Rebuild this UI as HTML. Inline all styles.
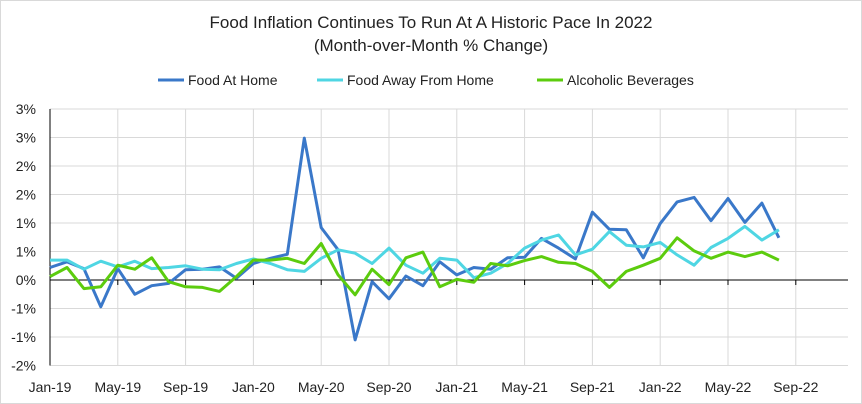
<!DOCTYPE html>
<html><head><meta charset="utf-8"><style>
html,body{margin:0;padding:0;background:#fff}
svg{display:block;font-family:"Liberation Sans",sans-serif}
</style></head><body>
<svg width="862" height="404" viewBox="0 0 862 404">
<rect x="0.5" y="0.5" width="861" height="403" fill="#fff" stroke="#d9d9d9"/>
<text x="431" y="28" text-anchor="middle" font-size="17" fill="#222">Food Inflation Continues To Run At A Historic Pace In 2022</text>
<text x="431" y="51" text-anchor="middle" font-size="17" fill="#222">(Month-over-Month % Change)</text>
<g id="legend"></g>
<g id="grid"></g>
<g id="yaxis"></g>
<g id="xaxis"></g>
<g id="series"></g>
</svg>
<script>
const months = 44;
const xTickLabels = ["Jan-19","May-19","Sep-19","Jan-20","May-20","Sep-20","Jan-21","May-21","Sep-21","Jan-22","May-22","Sep-22"];
const yTicks = [3.0,2.5,2.0,1.5,1.0,0.5,0,-0.5,-1.0,-1.5];
const seriesNames = ["Food At Home","Food Away From Home","Alcoholic Beverages"];
const foodAtHome = [0.22,0.32,0.2,-0.47,0.2,-0.25,-0.1,-0.06,0.18,0.19,0.23,0.03,0.29,0.38,0.45,2.49,0.92,0.53,-1.05,-0.03,-0.33,0.07,-0.1,0.32,0.09,0.22,0.19,0.39,0.4,0.73,0.56,0.37,1.19,0.89,0.88,0.39,0.99,1.37,1.45,1.04,1.43,1.01,1.35,0.74];
const foodAway = [0.35,0.35,0.19,0.33,0.23,0.33,0.2,0.22,0.25,0.19,0.18,0.29,0.37,0.29,0.18,0.15,0.38,0.53,0.47,0.29,0.56,0.26,0.12,0.38,0.35,0.04,0.12,0.29,0.56,0.7,0.79,0.44,0.54,0.85,0.61,0.58,0.66,0.44,0.26,0.57,0.73,0.94,0.7,0.88];
const alcohol = [0.06,0.22,-0.15,-0.12,0.26,0.19,0.39,-0.03,-0.12,-0.13,-0.2,0.06,0.35,0.35,0.38,0.29,0.64,0.09,-0.26,0.19,-0.08,0.39,0.49,-0.12,0.01,-0.04,0.29,0.25,0.34,0.41,0.31,0.29,0.15,-0.13,0.15,0.26,0.38,0.74,0.51,0.38,0.49,0.41,0.49,0.35];
const colors = ["#3a78c9","#4fd6e3","#5ccc0e"];

const NS="http://www.w3.org/2000/svg";
const X0=50, DX=16.95, Y0=280, PER=57, RIGHT=848;
const xs=i=>X0+i*DX;
const ys=v=>Y0-v*PER;
function mk(tag,parent,attrs){const e=document.createElementNS(NS,tag);for(const k in attrs)e.setAttribute(k,attrs[k]);parent.appendChild(e);return e;}
const grid=document.getElementById('grid'),yax=document.getElementById('yaxis'),xax=document.getElementById('xaxis'),ser=document.getElementById('series'),leg=document.getElementById('legend');

yTicks.forEach(v=>{
  if(v!==0){const l=mk('line',grid,{x1:X0,x2:RIGHT,y1:ys(v),y2:ys(v),stroke:'#d9d9d9','stroke-width':1});
  
  }
  const t=mk('text',yax,{x:36,y:ys(v)+5,'text-anchor':'end','font-size':14,fill:'#222'});
  const r=Math.sign(v)*Math.round(Math.abs(v));
  t.textContent=(r===0?0:r)+'%';
  
  
});
xTickLabels.forEach((lab,k)=>{
  const x=xs(k*4);
  const g=mk('line',grid,{x1:x,x2:x,y1:ys(3),y2:ys(-1.5),stroke:'#d9d9d9','stroke-width':1});
  
  
  const tk=mk('line',xax,{x1:x,x2:x,y1:Y0,y2:Y0+5,stroke:'#000','stroke-width':1});
  
  
  const t=mk('text',xax,{x:x,y:392,'text-anchor':'middle','font-size':14,fill:'#222'});
  t.textContent=lab;
  
  
});
const ya=mk('line',yax,{x1:X0,x2:X0,y1:ys(3),y2:ys(-1.5),stroke:'#000','stroke-width':1});


const za=mk('line',xax,{x1:X0,x2:RIGHT,y1:Y0,y2:Y0,stroke:'#000','stroke-width':1});



const data=[foodAtHome,foodAway,alcohol];
const ids=['food-at-home-line','food-away-line','alcoholic-beverages-line'];
data.forEach((arr,s)=>{
  const p=mk('polyline',ser,{points:arr.map((v,i)=>xs(i).toFixed(1)+','+ys(v).toFixed(1)).join(' '),fill:'none',stroke:colors[s],'stroke-width':3,'stroke-linejoin':'round'});
  
  
});
const lx=[158,317,537];
seriesNames.forEach((n,s)=>{
  const l=mk('line',leg,{x1:lx[s],x2:lx[s]+26,y1:80,y2:80,stroke:colors[s],'stroke-width':3});
  
  
  const t=mk('text',leg,{x:lx[s]+30,y:85,'font-size':14,fill:'#222'});
  t.textContent=n;
  
  
});
</script>
</body></html>
